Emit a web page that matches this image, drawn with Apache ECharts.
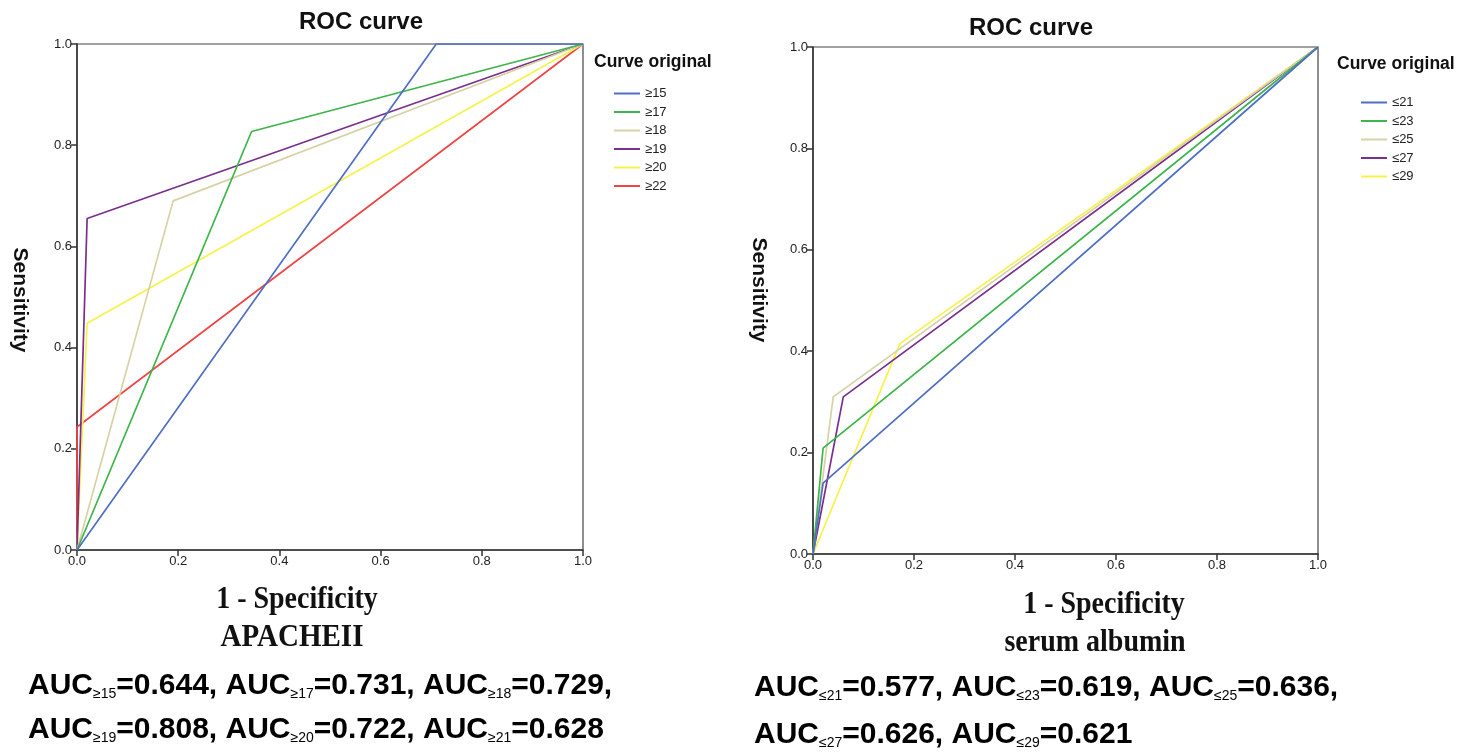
<!DOCTYPE html>
<html><head><meta charset="utf-8">
<script src="https://cdn.jsdelivr.net/npm/echarts@6/dist/echarts.min.js"></script>
<style>html,body{margin:0;padding:0;background:#fff}#c{width:1477px;height:753px}</style>
</head><body><div id="c"></div>
<script>
// ---- data ----
const axisTicks = [0, 0.2, 0.4, 0.6, 0.8, 1.0];
const leftNames = ['≥15', '≥17', '≥18', '≥19', '≥20', '≥22'];
const leftX = [[0, 0.71, 1], [0, 0.345, 1], [0, 0.19, 1], [0, 0.02, 1], [0, 0.02, 1], [0, 0, 1]];
const leftY = [[0, 1, 1], [0, 0.827, 1], [0, 0.69, 1], [0, 0.655, 1], [0, 0.448, 1], [0, 0.243, 1]];
const rightNames = ['≤21', '≤23', '≤25', '≤27', '≤29'];
const rightX = [[0, 0.02, 1], [0, 0.02, 1], [0, 0.04, 1], [0, 0.06, 1], [0, 0.172, 1]];
const rightY = [[0, 0.14, 1], [0, 0.209, 1], [0, 0.31, 1], [0, 0.31, 1], [0, 0.415, 1]];
const leftAuc = ['0.644', '0.731', '0.729', '0.808', '0.722', '0.628'];
const leftAucSub = ['≥15', '≥17', '≥18', '≥19', '≥20', '≥21'];
const rightAuc = ['0.577', '0.619', '0.636', '0.626', '0.621'];
const rightAucSub = ['≤21', '≤23', '≤25', '≤27', '≤29'];
const leftColors = ['#4f6fc4', '#3cb54a', '#d6d2a6', '#7a2f8c', '#f7f24a', '#f04545'];
const rightColors = ['#4f6fc4', '#3cb54a', '#d6d2a6', '#7a2f8c', '#f7f24a'];

const chart = echarts.init(document.getElementById('c'));

function axisCommon(gridIndex) {
  return {
    type: 'value', gridIndex: gridIndex, min: 0, max: 1, interval: 0.2,
    axisLine: { show: true, lineStyle: { color: '#333', width: 1.5 } },
    axisTick: { show: true, inside: false, length: 6, lineStyle: { color: '#333', width: 1.5 } },
    splitLine: { show: false },
    axisLabel: { color: '#222', fontSize: 13, fontFamily: 'Liberation Sans, Arial', margin: 5,
      formatter: v => v.toFixed(1) }
  };
}

const series = [];
leftNames.forEach((n, i) => {
  series.push({ name: n, type: 'line', xAxisIndex: 0, yAxisIndex: 0, showSymbol: false, symbol: 'none',
    lineStyle: { color: leftColors[i], width: 1.7 }, itemStyle: { color: leftColors[i] },
    data: leftX[i].map((x, j) => [x, leftY[i][j]]), animation: false, z: 3 + (6 - i) });
});
rightNames.forEach((n, i) => {
  series.push({ name: n, type: 'line', xAxisIndex: 1, yAxisIndex: 1, showSymbol: false, symbol: 'none',
    lineStyle: { color: rightColors[i], width: 1.7 }, itemStyle: { color: rightColors[i] },
    data: rightX[i].map((x, j) => [x, rightY[i][j]]), animation: false, z: 3 + (6 - i) });
});

function aucRich(subs, vals, start, end, last) {
  let s = '';
  for (let i = start; i < end; i++) {
    s += '{a|AUC}{s|' + subs[i] + '}{a|=' + vals[i] + (i < end - 1 || !last ? ', ' : '') + '}';
  }
  return s;
}
const richStyle = {
  a: { fontSize: 30, fontFamily: 'Liberation Sans, Arial', fontWeight: 'bold', color: '#111', verticalAlign: 'bottom', lineHeight: 34 },
  s: { fontSize: 14, fontFamily: 'Liberation Sans, Arial', fontWeight: 'normal', color: '#111', verticalAlign: 'bottom', lineHeight: 25 }
};

const serifBold = { fontFamily: 'Liberation Serif, Times New Roman', fontWeight: 'bold', fill: '#111' };
const sansBold = { fontFamily: 'Liberation Sans, Arial', fontWeight: 'bold', fill: '#111' };

chart.setOption({
  animation: false,
  grid: [
    { left: 77, top: 44, width: 506, height: 506, show: true, borderColor: '#444', borderWidth: 1.2, backgroundColor: 'transparent' },
    { left: 813, top: 47, width: 505, height: 507, show: true, borderColor: '#444', borderWidth: 1.2, backgroundColor: 'transparent' }
  ],
  xAxis: [axisCommon(0), axisCommon(1)],
  yAxis: [axisCommon(0), axisCommon(1)],
  legend: [
    { data: leftNames, orient: 'vertical', left: 609, top: 82, itemWidth: 26, itemHeight: 2, itemGap: 5.5,
      icon: 'rect', textStyle: { fontSize: 13, color: '#222', fontFamily: 'Liberation Sans, Arial' } },
    { data: rightNames, orient: 'vertical', left: 1356, top: 91, itemWidth: 26, itemHeight: 2, itemGap: 5.5,
      icon: 'rect', textStyle: { fontSize: 13, color: '#222', fontFamily: 'Liberation Sans, Arial' } }
  ],
  graphic: [
    { type: 'text', x: 361, y: 22, style: Object.assign({ text: 'ROC curve', fontSize: 24, align: 'center', verticalAlign: 'middle' }, sansBold) },
    { type: 'text', x: 1031, y: 28, style: Object.assign({ text: 'ROC curve', fontSize: 24, align: 'center', verticalAlign: 'middle' }, sansBold) },
    { type: 'text', left: 594, top: 53, style: Object.assign({ text: 'Curve original', fontSize: 17.5 }, sansBold) },
    { type: 'text', left: 1337, top: 55, style: Object.assign({ text: 'Curve original', fontSize: 17.5 }, sansBold) },
    { type: 'text', x: 20, y: 300, rotation: -Math.PI / 2, style: Object.assign({ text: 'Sensitivity', fontSize: 21, align: 'center', verticalAlign: 'middle' }, sansBold) },
    { type: 'text', x: 759, y: 290, rotation: -Math.PI / 2, style: Object.assign({ text: 'Sensitivity', fontSize: 21, align: 'center', verticalAlign: 'middle' }, sansBold) },
    { type: 'text', x: 297, y: 600, scaleY: 1.1, style: Object.assign({ text: '1 - Specificity', fontSize: 28, align: 'center', verticalAlign: 'middle' }, serifBold) },
    { type: 'text', x: 292, y: 638, scaleY: 1.1, style: Object.assign({ text: 'APACHEII', fontSize: 29, align: 'center', verticalAlign: 'middle' }, serifBold) },
    { type: 'text', x: 1104, y: 605, scaleY: 1.1, style: Object.assign({ text: '1 - Specificity', fontSize: 28, align: 'center', verticalAlign: 'middle' }, serifBold) },
    { type: 'text', x: 1095, y: 643, scaleY: 1.1, style: Object.assign({ text: 'serum albumin', fontSize: 28, align: 'center', verticalAlign: 'middle' }, serifBold) },
    { type: 'text', left: 28, top: 671, style: { text: aucRich(leftAucSub, leftAuc, 0, 3, false), rich: richStyle } },
    { type: 'text', left: 28, top: 715, style: { text: aucRich(leftAucSub, leftAuc, 3, 6, true), rich: richStyle } },
    { type: 'text', left: 754, top: 673, style: { text: aucRich(rightAucSub, rightAuc, 0, 3, false), rich: richStyle } },
    { type: 'text', left: 754, top: 720, style: { text: aucRich(rightAucSub, rightAuc, 3, 5, true), rich: richStyle } }
  ],
  series: series
});
</script></body></html>
